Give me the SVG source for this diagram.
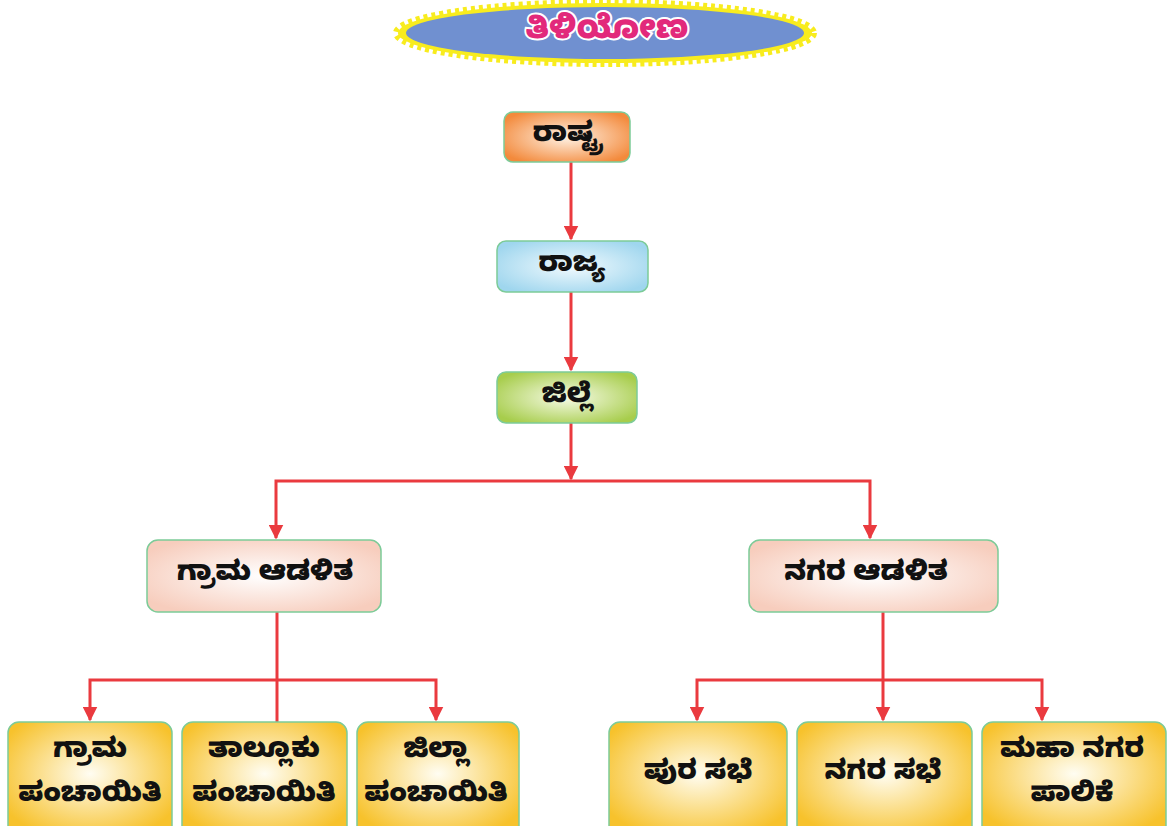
<svg xmlns="http://www.w3.org/2000/svg" width="1173" height="826" viewBox="0 0 1173 826">
<defs>
<radialGradient id="gOrange" cx="50%" cy="50%" r="60%"><stop offset="0" stop-color="#fff3e6"/><stop offset="1" stop-color="#f38a3c"/></radialGradient>
<radialGradient id="gBlue" cx="50%" cy="50%" r="60%"><stop offset="0" stop-color="#f2fafe"/><stop offset="1" stop-color="#9fd6ee"/></radialGradient>
<radialGradient id="gGreen" cx="50%" cy="50%" r="60%"><stop offset="0" stop-color="#f7fbe8"/><stop offset="1" stop-color="#a7cd4c"/></radialGradient>
<radialGradient id="gPink" cx="50%" cy="50%" r="60%"><stop offset="0" stop-color="#ffffff"/><stop offset="1" stop-color="#f7cdbd"/></radialGradient>
<radialGradient id="gYellow" cx="50%" cy="45%" r="60%"><stop offset="0" stop-color="#fffdf2"/><stop offset="1" stop-color="#f7c22c"/></radialGradient>
<marker id="arr" viewBox="0 0 10 10" refX="9" refY="5" markerWidth="5" markerHeight="5" markerUnits="strokeWidth" orient="auto">
<path d="M0,0 L10,5 L0,10 Z" fill="#ea3a3f"/>
</marker>
</defs>
<style>
.box{stroke:#7ccb98;stroke-width:1.5}
.t{font-family:"Noto Sans Kannada","Noto Sans","Noto Sans CJK SC",sans-serif;font-weight:900;font-size:27px;fill:#111;text-anchor:middle;dominant-baseline:central}
.c{fill:none;stroke:#ea3a3f;stroke-width:3}
</style>
<rect width="1173" height="826" fill="#ffffff"/>
<g id="title">
<ellipse cx="605" cy="33" rx="209" ry="31" fill="none" stroke="#f8ec1e" stroke-width="6" stroke-dasharray="4 4"/>
<ellipse cx="605" cy="33" rx="207" ry="30" fill="#f8ec1e"/>
<ellipse cx="605" cy="33" rx="199" ry="26" fill="#7090d0"/>
<text x="607" y="33" class="t" style="font-size:32px;fill:#e2297b;stroke:#ffffff;stroke-width:4;paint-order:stroke">ತಿಳಿಯೋಣ</text>
</g>
<g id="connectors">
<path class="c" d="M571,162 V239" marker-end="url(#arr)"/>
<path class="c" d="M571,292 V370" marker-end="url(#arr)"/>
<path class="c" d="M571,423 V479" marker-end="url(#arr)"/>
<path class="c" d="M571,481 H276 V538" marker-end="url(#arr)"/>
<path class="c" d="M571,481 H870 V538" marker-end="url(#arr)"/>
<path class="c" d="M277,612 V722"/>
<path class="c" d="M277,680 H90 V720" marker-end="url(#arr)"/>
<path class="c" d="M277,680 H436 V720" marker-end="url(#arr)"/>
<path class="c" d="M883,612 V720" marker-end="url(#arr)"/>
<path class="c" d="M883,680 H697 V720" marker-end="url(#arr)"/>
<path class="c" d="M883,680 H1042 V720" marker-end="url(#arr)"/>
</g>
<g id="rashtra">
<rect class="box" x="504" y="112" width="126" height="50" rx="9" fill="url(#gOrange)"/>
<text class="t" x="567" y="137">ರಾಷ್ಟ್ರ</text>
</g>
<g id="rajya">
<rect class="box" x="497" y="241" width="151" height="51" rx="9" fill="url(#gBlue)"/>
<text class="t" x="572" y="267">ರಾಜ್ಯ</text>
</g>
<g id="jille">
<rect class="box" x="497" y="372" width="140" height="51" rx="9" fill="url(#gGreen)"/>
<text class="t" x="567" y="398">ಜಿಲ್ಲೆ</text>
</g>
<g id="grama-adalita">
<rect class="box" x="147" y="540" width="234" height="72" rx="11" fill="url(#gPink)"/>
<text class="t" x="265" y="576">ಗ್ರಾಮ ಆಡಳಿತ</text>
</g>
<g id="nagara-adalita">
<rect class="box" x="749" y="540" width="249" height="72" rx="11" fill="url(#gPink)"/>
<text class="t" x="866" y="576">ನಗರ ಆಡಳಿತ</text>
</g>
<g id="grama-panchayiti">
<rect class="box" x="8" y="722" width="164" height="115" rx="11" fill="url(#gYellow)"/>
<text class="t" x="90" y="753">ಗ್ರಾಮ</text>
<text class="t" x="90" y="797">ಪಂಚಾಯಿತಿ</text>
</g>
<g id="taluku-panchayiti">
<rect class="box" x="182" y="722" width="165" height="115" rx="11" fill="url(#gYellow)"/>
<text class="t" x="264" y="753">ತಾಲ್ಲೂಕು</text>
<text class="t" x="264" y="797">ಪಂಚಾಯಿತಿ</text>
</g>
<g id="jilla-panchayiti">
<rect class="box" x="357" y="722" width="162" height="115" rx="11" fill="url(#gYellow)"/>
<text class="t" x="436" y="753">ಜಿಲ್ಲಾ</text>
<text class="t" x="436" y="797">ಪಂಚಾಯಿತಿ</text>
</g>
<g id="pura-sabhe">
<rect class="box" x="609" y="722" width="178" height="115" rx="11" fill="url(#gYellow)"/>
<text class="t" x="698" y="775">ಪುರ ಸಭೆ</text>
</g>
<g id="nagara-sabhe">
<rect class="box" x="797" y="722" width="175" height="115" rx="11" fill="url(#gYellow)"/>
<text class="t" x="883" y="775">ನಗರ ಸಭೆ</text>
</g>
<g id="mahanagara-palike">
<rect class="box" x="982" y="722" width="184" height="115" rx="11" fill="url(#gYellow)"/>
<text class="t" x="1072" y="753">ಮಹಾ ನಗರ</text>
<text class="t" x="1072" y="797">ಪಾಲಿಕೆ</text>
</g>
</svg>
